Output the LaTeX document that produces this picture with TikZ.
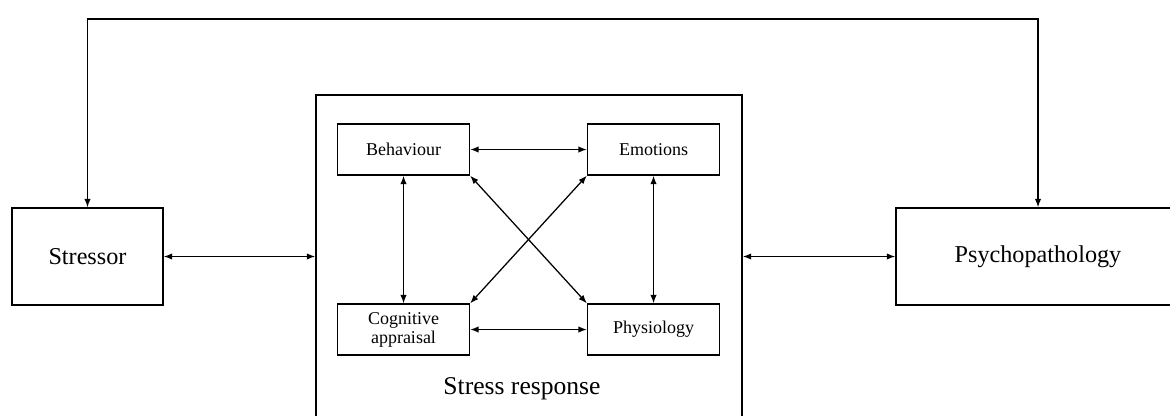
\documentclass[tikz,border=0pt]{standalone}
\usepackage{fontspec}
\setmainfont{Liberation Serif}
\usetikzlibrary{arrows.meta}
\begin{document}
\begin{tikzpicture}[x=0.025cm,y=-0.025cm,
  line width=0.9pt,
  box/.style={draw,inner sep=0pt,align=center},
  outerbox/.style={box,minimum height=24.25mm,font=\fontsize{17.2}{20}\selectfont},
  innerbox/.style={box,minimum width=33mm,minimum height=12.75mm,font=\fontsize{12.8}{14}\selectfont},
  conn/.style={{Latex[length=6pt,width=4.5pt]}-{Latex[length=6pt,width=4.5pt]}}]
\useasboundingbox[fill=white] (0,0) rectangle (1170,415);
\node[outerbox,minimum width=37.75mm] (stressor) at (87.5,256.5) {Stressor};
\node[outerbox,minimum width=71mm] (psy) at (1038,256.5) {Psychopathology};
\node[box,minimum width=106.5mm,minimum height=83.75mm] (sr) at (529,262.5) {};
\node[font=\fontsize{18.2}{21}\selectfont] (srlabel) at (522,389) {Stress response};
\node[innerbox] (beh) at (403.5,149.5) {Behaviour};
\node[innerbox] (emo) at (653.5,149.5) {Emotions};
\node[innerbox,font=\fontsize{12.8}{13.5}\selectfont] (cog) at (403.5,329.5) {Cognitive\\appraisal};
\node[innerbox] (phy) at (653.5,329.5) {Physiology};
\coordinate (top) at (0,19);
\draw[conn] (stressor.north) -- (stressor.north |- top) -| (psy.north);
\draw[conn] (stressor.east) -- (stressor.east -| sr.west);
\draw[conn] (sr.east |- psy.west) -- (psy.west);
\draw[conn] (beh.east) -- (emo.west);
\draw[conn] (cog.east) -- (phy.west);
\draw[conn] (beh.south) -- (cog.north);
\draw[conn] (emo.south) -- (phy.north);
\draw[conn] (beh.south east) -- (phy.north west);
\draw[conn] (emo.south west) -- (cog.north east);
\end{tikzpicture}
\end{document}
